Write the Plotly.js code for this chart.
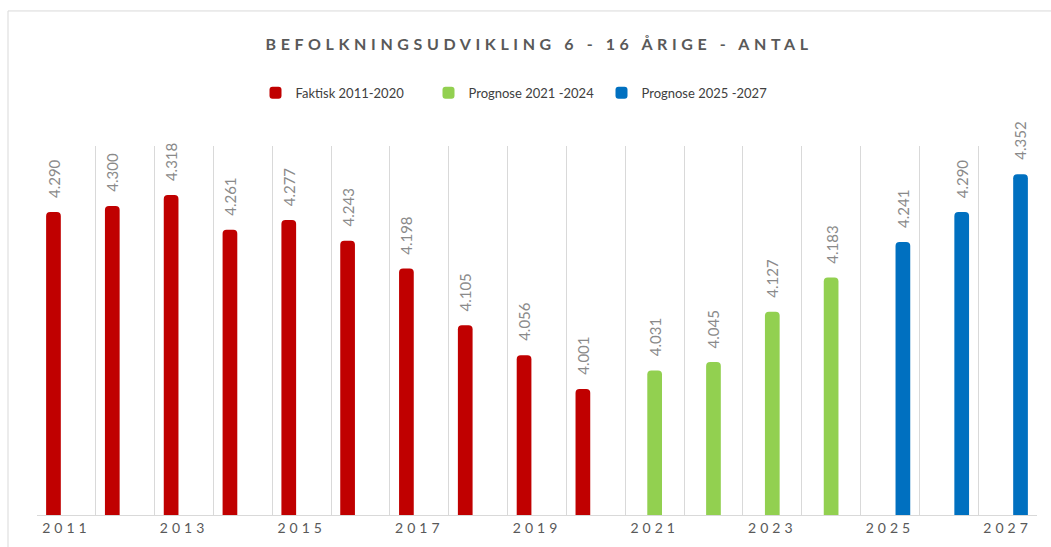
<!DOCTYPE html>
<html>
<head>
<meta charset="utf-8">
<script src="https://cdn.plot.ly/plotly-3.0.1.min.js"></script>
<style>
  html, body { margin: 0; padding: 0; background: #fff; }
  #chart { width: 1051px; height: 547px; }
  .gtitle { letter-spacing: 4.6px; }
  .xtick text { letter-spacing: 4px; }
</style>
</head>
<body>
<div id="chart"></div>
<script>
// ---- data ----
const faktiskYears = [2011, 2012, 2013, 2014, 2015, 2016, 2017, 2018, 2019, 2020];
const faktiskValues = [4290, 4300, 4318, 4261, 4277, 4243, 4198, 4105, 4056, 4001];
const prognose1Years = [2021, 2022, 2023, 2024];
const prognose1Values = [4031, 4045, 4127, 4183];
const prognose2Years = [2025, 2026, 2027];
const prognose2Values = [4241, 4290, 4352];
const tickYears = [2011, 2013, 2015, 2017, 2019, 2021, 2023, 2025, 2027];
const tickLabels = ['2011', '2013', '2015', '2017', '2019', '2021', '2023', '2025', '2027'];
const seriesNames = ['Faktisk 2011-2020', 'Prognose 2021 -2024', 'Prognose 2025 -2027'];
const chartTitle = 'BEFOLKNINGSUDVIKLING 6 - 16 ÅRIGE - ANTAL';

const FONT = 'Lato, "Open Sans", sans-serif';
const colors = ['#C00000', '#92D050', '#0070C0'];
const offsets = [-0.345, -0.125, 0.095];
const barW = 0.25;

const groups = [
  [faktiskYears, faktiskValues],
  [prognose1Years, prognose1Values],
  [prognose2Years, prognose2Values]
];

const traces = groups.map((g, i) => ({
  type: 'bar',
  name: seriesNames[i],
  x: g[0],
  y: g[1],
  width: barW,
  offset: offsets[i],
  marker: { color: colors[i], cornerradius: 4 },
  hoverinfo: 'x+y'
}));

const annotations = [];
groups.forEach((g, i) => {
  g[0].forEach((yr, j) => {
    annotations.push({
      x: yr + offsets[i] + barW / 2,
      y: g[1][j],
      xref: 'x', yref: 'y',
      text: g[1][j].toLocaleString('da-DK'),
      showarrow: false,
      textangle: -90,
      yanchor: 'bottom',
      xanchor: 'center',
      yshift: 12,
      font: { family: FONT, size: 15, color: '#8a8a8a' }
    });
  });
});

const layout = {
  width: 1051,
  height: 547,
  margin: { l: 37, r: 14, t: 146, b: 32 },
  paper_bgcolor: '#ffffff',
  plot_bgcolor: '#ffffff',
  separators: ',.',
  barmode: 'overlay',
  title: {
    text: '<b>' + chartTitle + '</b>',
    x: 0.513, xanchor: 'center',
    y: 1 - 44 / 547, yanchor: 'middle',
    font: { family: FONT, size: 16, color: '#595959' }
  },
  showlegend: true,
  legend: {
    orientation: 'h',
    x: 0.478, xanchor: 'center',
    y: 1.144, yanchor: 'middle',
    font: { family: FONT, size: 13, color: '#404040' },
    itemwidth: 30,
    entrywidth: 128,
    traceorder: 'normal'
  },
  xaxis: {
    type: 'linear',
    range: [2010.5, 2027.5],
    tickvals: tickYears,
    ticktext: tickLabels,
    ticks: '',
    showgrid: false,
    zeroline: false,
    showline: true,
    linecolor: '#d9d9d9',
    linewidth: 1,
    tickfont: { family: FONT, size: 14, color: '#595959' },
    minor: { tick0: 2010.5, dtick: 1, showgrid: true, gridcolor: '#d9d9d9', gridwidth: 1, ticks: '' }
  },
  yaxis: {
    range: [3795, 4398],
    visible: false,
    showgrid: false,
    zeroline: false
  },
  annotations: annotations,
  shapes: [{
    type: 'rect', xref: 'paper', yref: 'paper',
    x0: -0.029, x1: 1.2, y0: -0.3, y1: 1.366,
    line: { color: '#d9d9d9', width: 1 },
    fillcolor: 'rgba(0,0,0,0)',
    layer: 'below'
  }]
};

Plotly.newPlot('chart', traces, layout, { displayModeBar: false, responsive: false });
</script>
</body>
</html>
